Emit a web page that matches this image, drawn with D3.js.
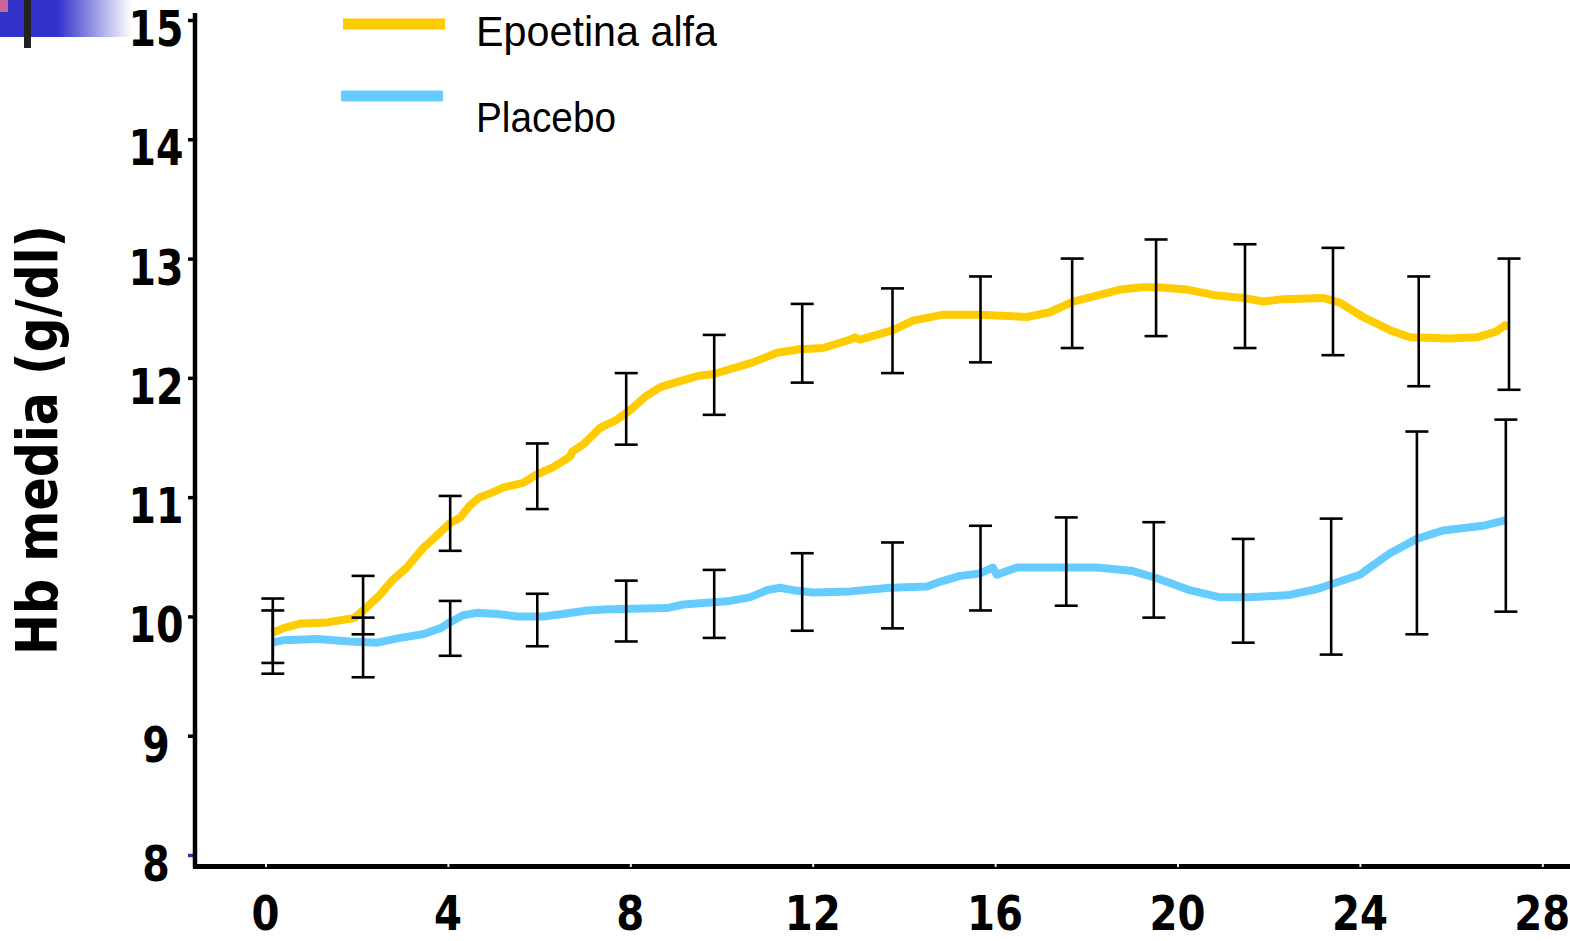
<!DOCTYPE html>
<html>
<head>
<meta charset="utf-8">
<script src="https://cdn.jsdelivr.net/npm/d3@7"></script>
<style>
  html, body { margin: 0; padding: 0; background: #fff; }
  svg { display: block; }
</style>
</head>
<body>
<svg id="chart" width="1570" height="941"></svg>
<script>
// ---------- DATA ----------
const seriesNames = ["Epoetina alfa", "Placebo"];
const seriesColors = ["#FFCC00", "#66CCFF"];

// Epoetina alfa mean curve (weeks, Hb g/dl)
const epoT = [0.14,0.38,0.76,1.35,1.85,1.96,2.23,2.51,2.66,2.80,3.10,3.45,3.76,4.04,4.27,4.48,4.70,4.92,5.21,5.65,5.95,6.30,6.68,6.72,6.96,7.34,7.71,8.00,8.32,8.65,8.98,9.53,9.81,10.69,11.22,11.72,12.23,12.82,12.93,13.04,13.76,14.20,14.86,15.67,16.70,17.20,17.71,18.23,18.74,19.24,19.55,20.21,20.87,21.44,21.88,22.31,23.19,23.56,24.07,24.66,25.10,25.98,26.57,27.00,27.18,27.27];
const epoV = [9.86,9.90,9.94,9.95,9.98,9.99,10.08,10.18,10.25,10.31,10.41,10.57,10.68,10.78,10.83,10.93,11.00,11.03,11.08,11.12,11.19,11.25,11.34,11.38,11.44,11.58,11.65,11.73,11.84,11.92,11.96,12.02,12.03,12.13,12.21,12.24,12.25,12.32,12.34,12.32,12.40,12.48,12.53,12.53,12.51,12.55,12.64,12.69,12.74,12.76,12.76,12.74,12.69,12.67,12.64,12.66,12.67,12.63,12.51,12.40,12.34,12.33,12.34,12.39,12.44,12.43];

// Placebo mean curve
const plaT = [0.14,0.38,1.13,1.85,2.45,2.95,3.45,3.83,4.04,4.33,4.64,5.08,5.52,6.09,6.52,7.05,7.55,8.80,9.16,9.53,10.19,10.62,11.00,11.28,11.57,12.01,12.82,13.70,14.51,14.79,15.23,15.67,15.95,16.04,16.26,16.48,17.58,18.23,19.02,19.55,20.27,20.93,21.59,22.46,23.06,24.00,24.22,24.66,25.25,25.82,26.70,27.22];
const plaV = [9.78,9.80,9.81,9.79,9.78,9.82,9.85,9.90,9.95,10.01,10.03,10.02,10.00,10.00,10.02,10.05,10.06,10.07,10.10,10.11,10.13,10.16,10.22,10.24,10.22,10.20,10.21,10.24,10.25,10.29,10.34,10.36,10.41,10.35,10.38,10.41,10.41,10.41,10.38,10.32,10.22,10.16,10.16,10.18,10.23,10.35,10.41,10.53,10.65,10.72,10.76,10.81];

// Error bars (time, low, high)
const epoErrT    = [0.16,2.14,4.05,5.96,7.91,9.84,11.77,13.75,15.68,17.69,19.53,21.48,23.41,25.29,27.27];
const epoErrLow  = [9.61,9.85,10.55,10.90,11.44,11.69,11.96,12.04,12.13,12.25,12.35,12.25,12.19,11.93,11.90];
const epoErrHigh = [10.15,10.34,11.01,11.45,12.04,12.36,12.62,12.75,12.85,13.00,13.16,13.12,13.09,12.85,13.00];

const plaErrT    = [0.16,2.14,4.05,5.96,7.91,9.84,11.77,13.75,15.68,17.56,19.48,21.44,23.37,25.25,27.20];
const plaErrLow  = [9.52,9.49,9.67,9.75,9.79,9.82,9.88,9.90,10.05,10.09,9.99,9.78,9.68,9.85,10.04];
const plaErrHigh = [10.05,9.99,10.13,10.19,10.30,10.39,10.53,10.62,10.76,10.83,10.79,10.65,10.82,11.55,11.65];

const xTicks = [0,4,8,12,16,20,24,28];
const yTicks = [8,9,10,11,12,13,14,15];
const yTitle = "Hb media (g/dl)";

// ---------- DRAW ----------
const svg = d3.select("#chart");
const x = d3.scaleLinear().domain([0, 28]).range([265.5, 1542.3]);
const y = d3.scaleLinear().domain([8, 15]).range([855, 20]);

// decorative slide header
const defs = svg.append("defs");
const grad = defs.append("linearGradient").attr("id", "hdr").attr("x1", "0").attr("x2", "1");
grad.append("stop").attr("offset", "0").attr("stop-color", "#3333CC");
grad.append("stop").attr("offset", "0.44").attr("stop-color", "#3333CC");
grad.append("stop").attr("offset", "1").attr("stop-color", "#ffffff");
svg.append("rect").attr("x", 0).attr("y", 0).attr("width", 132).attr("height", 37).attr("fill", "url(#hdr)");
svg.append("rect").attr("x", 0).attr("y", 0).attr("width", 8).attr("height", 12).attr("fill", "#CC6699");
svg.append("rect").attr("x", 24).attr("y", 0).attr("width", 7).attr("height", 48).attr("fill", "#222");

// Y axis
const yAxis = d3.axisLeft(y).tickValues(yTicks).tickSize(7).tickFormat("");
const gy = svg.append("g").attr("transform", "translate(195,0)").call(yAxis);
gy.select(".domain").remove();
gy.selectAll(".tick line").attr("stroke", (d) => d === 8 ? "#333399" : "#000").attr("stroke-width", 3.5);
svg.append("line").attr("x1", 195).attr("x2", 195).attr("y1", 13).attr("y2", 868)
  .attr("stroke", "#000").attr("stroke-width", 4.5);

// X axis
svg.append("line").attr("x1", 193).attr("x2", 1570).attr("y1", 866.5).attr("y2", 866.5)
  .attr("stroke", "#000").attr("stroke-width", 5);
const xAxis = d3.axisTop(x).tickValues(xTicks).tickSize(3).tickFormat("");
const gx = svg.append("g").attr("transform", "translate(0,867)").call(xAxis);
gx.select(".domain").remove();
gx.selectAll(".tick line").attr("stroke", "#eee").attr("stroke-width", 2);

// tick labels
svg.append("g").selectAll("text").data(yTicks).join("text")
  .attr("x", 156).attr("y", (d) => y(d) + 26)
  .attr("text-anchor", "middle")
  .attr("font-family", "DejaVu Sans, Verdana, sans-serif")
  .attr("font-weight", "bold").attr("font-size", 49)
  .attr("textLength", (d) => String(d).length * 27.5)
  .attr("lengthAdjust", "spacingAndGlyphs")
  .text((d) => d);

svg.append("g").selectAll("text").data(xTicks).join("text")
  .attr("x", (d) => x(d)).attr("y", 930)
  .attr("text-anchor", "middle")
  .attr("font-family", "DejaVu Sans, Verdana, sans-serif")
  .attr("font-weight", "bold").attr("font-size", 48)
  .attr("textLength", (d) => String(d).length * 28)
  .attr("lengthAdjust", "spacingAndGlyphs")
  .text((d) => d);

// Y title
svg.append("text")
  .attr("transform", "translate(57,440) rotate(-90)")
  .attr("text-anchor", "middle")
  .attr("font-family", "DejaVu Sans, Verdana, sans-serif")
  .attr("font-weight", "bold").attr("font-size", 57)
  .attr("textLength", 430).attr("lengthAdjust", "spacingAndGlyphs")
  .text(yTitle);

// lines
const line = d3.line().x((d) => x(d[0])).y((d) => y(d[1])).curve(d3.curveLinear);
const series = [
  { t: epoT, v: epoV, color: seriesColors[0] },
  { t: plaT, v: plaV, color: seriesColors[1] }
];
series.forEach((s) => {
  svg.append("path")
    .datum(s.t.map((t, i) => [t, s.v[i]]))
    .attr("d", line)
    .attr("fill", "none")
    .attr("stroke", s.color)
    .attr("stroke-width", 8)
    .attr("stroke-linejoin", "round")
    .attr("stroke-linecap", "butt");
});

// error bars
const errSets = [
  { t: epoErrT, lo: epoErrLow, hi: epoErrHigh },
  { t: plaErrT, lo: plaErrLow, hi: plaErrHigh }
];
const capW = 11.5;
errSets.forEach((e) => {
  const g = svg.append("g").attr("stroke", "#000").attr("stroke-width", 2.6);
  const data = e.t.map((t, i) => ({ t, lo: e.lo[i], hi: e.hi[i] }));
  g.selectAll("line.v").data(data).join("line").attr("class", "v")
    .attr("x1", (d) => x(d.t)).attr("x2", (d) => x(d.t))
    .attr("y1", (d) => y(d.hi)).attr("y2", (d) => y(d.lo));
  g.selectAll("line.h").data(data).join("line").attr("class", "h")
    .attr("x1", (d) => x(d.t) - capW).attr("x2", (d) => x(d.t) + capW)
    .attr("y1", (d) => y(d.hi)).attr("y2", (d) => y(d.hi));
  g.selectAll("line.l").data(data).join("line").attr("class", "l")
    .attr("x1", (d) => x(d.t) - capW).attr("x2", (d) => x(d.t) + capW)
    .attr("y1", (d) => y(d.lo)).attr("y2", (d) => y(d.lo));
});

// legend
const legendY = [24, 96];
const legendTextY = [46, 132];
const legendLen = [241, 140];
seriesNames.forEach((name, i) => {
  svg.append("line")
    .attr("x1", 343 - i * 2).attr("x2", 445 - i * 2)
    .attr("y1", legendY[i]).attr("y2", legendY[i])
    .attr("stroke", seriesColors[i]).attr("stroke-width", 11);
  svg.append("text")
    .attr("x", 476).attr("y", legendTextY[i])
    .attr("font-family", "Liberation Sans, Arial, sans-serif")
    .attr("font-size", 42)
    .attr("textLength", legendLen[i]).attr("lengthAdjust", "spacingAndGlyphs")
    .text(name);
});
</script>
</body>
</html>
